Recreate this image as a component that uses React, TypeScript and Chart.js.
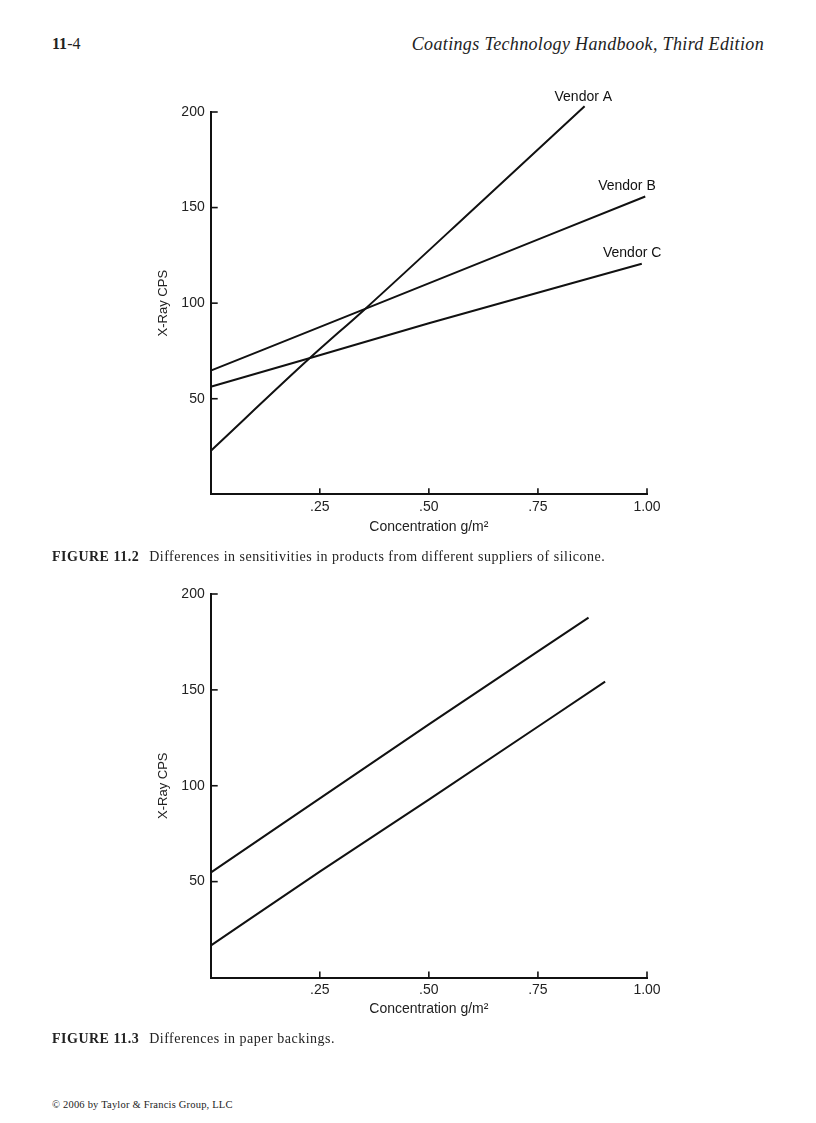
import React, { useEffect, useRef } from "react";
import { Chart, registerables } from "chart.js";

Chart.register(...registerables);

// ---------- data ----------
const xTickValues = [0.25, 0.5, 0.75, 1.0];
const xTickLabels = [".25", ".50", ".75", "1.00"];
const yTickValues = [50, 100, 150, 200];
const yTickLabels = ["50", "100", "150", "200"];

// Figure 11.2
const concA = [0, 0.226, 0.354, 0.625, 0.857];
const cpsA = [22.7, 71, 97, 154, 203];
const concB = [0, 0.354, 0.996];
const cpsB = [64.7, 97, 155.8];
const concC = [0, 0.226, 0.5, 0.988];
const cpsC = [56.3, 71.2, 89.5, 120.6];
const vendorNames = ["Vendor A", "Vendor B", "Vendor C"];
const vendorLabelConc = [0.854, 0.954, 0.966];
const vendorLabelCps = [208, 161, 126.2];

// Figure 11.3
const concUpper = [0, 0.5, 0.866];
const cpsUpper = [54.7, 132, 187.7];
const concLower = [0, 0.25, 0.5, 0.904];
const cpsLower = [16.6, 55.2, 92.8, 154.3];

const SANS = "'Liberation Sans', Arial, sans-serif";
const SERIF = "'Liberation Serif', 'Times New Roman', serif";
const INK = "#111";

const toPoints = (xs: number[], ys: number[]) => xs.map((x, i) => ({ x, y: ys[i] }));

const inwardTicks = {
  id: "inwardTicks",
  afterDraw(chart: any) {
    const { ctx, scales } = chart;
    const x = scales.x;
    const y = scales.y;
    ctx.save();
    ctx.strokeStyle = INK;
    ctx.lineWidth = 1.6;
    xTickValues.forEach((v) => {
      const px = x.getPixelForValue(v);
      ctx.beginPath();
      ctx.moveTo(px, x.top);
      ctx.lineTo(px, x.top - 6);
      ctx.stroke();
    });
    yTickValues.forEach((v) => {
      const py = y.getPixelForValue(v);
      ctx.beginPath();
      ctx.moveTo(y.right, py);
      ctx.lineTo(y.right + 7, py);
      ctx.stroke();
    });
    ctx.restore();
  },
};

const lineLabels = {
  id: "lineLabels",
  afterDatasetsDraw(chart: any, _args: any, opts: any) {
    const items = (opts && opts.items) || [];
    if (!items.length) return;
    const { ctx, scales } = chart;
    ctx.save();
    ctx.fillStyle = INK;
    ctx.font = `14px ${SANS}`;
    ctx.textAlign = "center";
    ctx.textBaseline = "middle";
    items.forEach((it: any) => {
      ctx.fillText(it.text, scales.x.getPixelForValue(it.x), scales.y.getPixelForValue(it.y));
    });
    ctx.restore();
  },
};

function makeConfig(datasets: any[], labels: any[], xAxisHeight: number) {
  return {
    type: "scatter",
    data: {
      datasets: datasets.map((d) => ({
        data: d,
        showLine: true,
        pointRadius: 0,
        borderColor: INK,
        borderWidth: 2,
        tension: 0.4,
        cubicInterpolationMode: "monotone",
        clip: false,
      })),
    },
    options: {
      animation: false,
      responsive: false,
      events: [],
      layout: { padding: { top: 32, right: 43, left: 0, bottom: 0 } },
      plugins: {
        legend: { display: false },
        tooltip: { enabled: false },
        lineLabels: { items: labels },
      },
      scales: {
        x: {
          type: "linear",
          min: 0,
          max: 1,
          afterFit: (s: any) => {
            s.height = xAxisHeight;
          },
          grid: { display: false, drawTicks: false },
          border: { display: true, color: INK, width: 2 },
          ticks: {
            stepSize: 0.25,
            autoSkip: false,
            maxRotation: 0,
            padding: 4,
            color: "#222",
            font: { family: SANS, size: 14 },
            callback: (v: any) => {
              const i = xTickValues.indexOf(Number(v));
              return i >= 0 ? xTickLabels[i] : "";
            },
          },
          title: {
            display: true,
            text: "Concentration g/m²",
            color: "#222",
            font: { family: SANS, size: 14 },
            padding: { top: 0, bottom: 14 },
          },
        },
        y: {
          type: "linear",
          min: 0,
          max: 200,
          afterFit: (s: any) => {
            s.width = 80.7;
          },
          grid: { display: false, drawTicks: false },
          border: { display: true, color: INK, width: 2 },
          ticks: {
            stepSize: 50,
            padding: 6,
            color: "#222",
            font: { family: SANS, size: 14 },
            callback: (v: any) => {
              const i = yTickValues.indexOf(Number(v));
              return i >= 0 ? yTickLabels[i] : "";
            },
          },
          title: {
            display: true,
            text: "X-Ray CPS",
            color: "#222",
            font: { family: SANS, size: 13 },
            padding: { top: 26, bottom: 0 },
          },
        },
      },
    },
    plugins: [inwardTicks, lineLabels],
  };
}

function LineChart(props: { config: any; left: number; top: number; width: number; height: number }) {
  const ref = useRef<HTMLCanvasElement | null>(null);
  useEffect(() => {
    if (!ref.current) return;
    const chart = new Chart(ref.current, props.config);
    return () => chart.destroy();
  }, []);
  return (
    <canvas
      ref={ref}
      width={props.width}
      height={props.height}
      style={{ position: "absolute", left: props.left, top: props.top, width: props.width, height: props.height }}
    />
  );
}

export default function App() {
  const fig2 = makeConfig(
    [toPoints(concA, cpsA), toPoints(concB, cpsB), toPoints(concC, cpsC)],
    vendorNames.map((t, i) => ({ text: t, x: vendorLabelConc[i], y: vendorLabelCps[i] })),
    55.7
  );
  const fig3 = makeConfig([toPoints(concUpper, cpsUpper), toPoints(concLower, cpsLower)], [], 54.5);

  const caption = (top: number, num: string, text: string) => (
    <div
      style={{
        position: "absolute",
        left: 52,
        top,
        fontFamily: SERIF,
        fontSize: 14,
        letterSpacing: 0.5,
        color: "#222",
        whiteSpace: "nowrap",
        lineHeight: "16px",
      }}
    >
      <b>{num}</b>
      <span style={{ marginLeft: 10 }}>{text}</span>
    </div>
  );

  return (
    <div style={{ position: "absolute", left: 0, top: 0, width: 816, height: 1123, background: "#fff", overflow: "hidden" }}>
      <div style={{ position: "absolute", left: 52, top: 34, fontFamily: SERIF, fontSize: 16, color: "#222", lineHeight: "20px" }}>
        <b>11</b>-4
      </div>
      <div
        style={{
          position: "absolute",
          right: 816 - 764,
          top: 34,
          fontFamily: SERIF,
          fontStyle: "italic",
          fontSize: 18,
          letterSpacing: 0.35,
          color: "#222",
          lineHeight: "20px",
          whiteSpace: "nowrap",
        }}
      >
        Coatings Technology Handbook, Third Edition
      </div>

      <LineChart config={fig2} left={130} top={80} width={560} height={470} />
      {caption(549, "FIGURE 11.2", "Differences in sensitivities in products from different suppliers of silicone.")}

      <LineChart config={fig3} left={130} top={562} width={560} height={470} />
      {caption(1031, "FIGURE 11.3", "Differences in paper backings.")}

      <div
        style={{
          position: "absolute",
          left: 52,
          top: 1099,
          fontFamily: SERIF,
          fontSize: 10.5,
          letterSpacing: 0.2,
          color: "#222",
          whiteSpace: "nowrap",
        }}
      >
        © 2006 by Taylor &amp; Francis Group, LLC
      </div>
    </div>
  );
}
